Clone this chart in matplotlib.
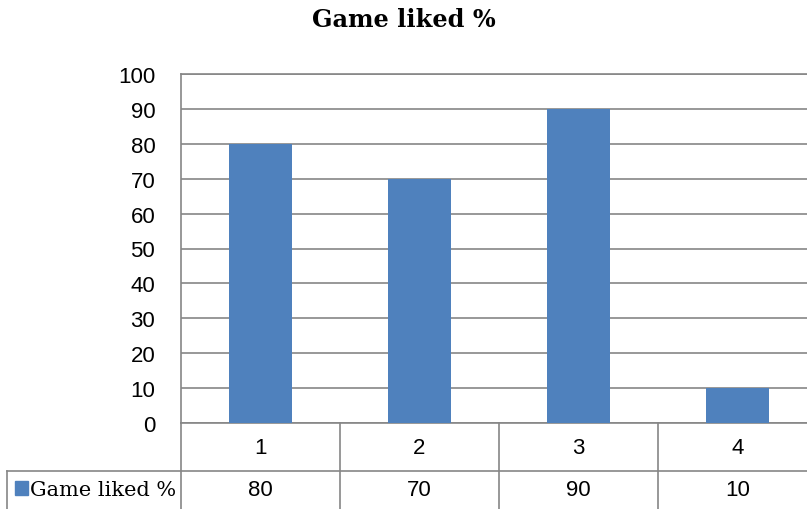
import matplotlib
matplotlib.use("Agg")
import matplotlib.pyplot as plt
import matplotlib.transforms as mtransforms
from matplotlib.lines import Line2D
from matplotlib.patches import Rectangle

categories = ["1", "2", "3", "4"]
values = [80, 70, 90, 10]
series_name = "Game liked %"
title = "Game liked %"
yticks = [0, 10, 20, 30, 40, 50, 60, 70, 80, 90, 100]

W, H = 807, 510
fig = plt.figure(figsize=(W / 100, H / 100), dpi=100)
L, R, B, T = 181, 817, 424, 75
ax = fig.add_axes([L / W, 1 - B / H, (R - L) / W, (B - T) / H])

num_font = dict(family="Liberation Sans", fontsize=16)
bar_color = "#4F81BD"
grid_color = "#868686"
x = list(range(len(categories)))
ax.bar(x, values, width=0.4, color=bar_color, zorder=3)
ax.set_xlim(-0.5, len(categories) - 0.5)
ax.set_ylim(0, 100)
ax.set_yticks(yticks)
ax.set_yticklabels([str(v) for v in yticks], **num_font)
ax.tick_params(axis="y", length=0, pad=18.5)
ax.set_xticks([])
ax.grid(axis="y", color=grid_color, linewidth=1.2, zorder=0)
for s in ["left", "bottom", "top", "right"]:
    ax.spines[s].set_color(grid_color)
    ax.spines[s].set_linewidth(1.2)

fig.text(404 / W, 1 - 20 / H, title, fontsize=17.3, fontweight="bold",
         family="DejaVu Serif", ha="center", va="center")

# data table below the axes
trans = mtransforms.blended_transform_factory(ax.transData, ax.transAxes)
ph = (B - T)
cw = (R - L) / len(categories)
row1 = -(472 - B) / ph
row2 = -(520 - B) / ph
mid1 = -(448 - B) / ph
mid2 = -(491 - B) / ph
lc = dict(color=grid_color, linewidth=1.2, clip_on=False)
for i in range(len(categories) + 1):
    ax.add_line(Line2D([i - 0.5, i - 0.5], [0, row2], transform=trans, **lc))
left_x = -0.5 - (L - 7) / cw
ax.add_line(Line2D([left_x, len(categories) - 0.5], [row1, row1], transform=trans, **lc))
ax.add_line(Line2D([left_x, left_x], [row1, row2], transform=trans, **lc))

for i, (c, v) in enumerate(zip(categories, values)):
    ax.text(i, mid1, c, transform=trans, ha="center", va="center", **num_font)
    ax.text(i, mid2, str(v), transform=trans, ha="center", va="center", **num_font)

ax.add_patch(Rectangle((left_x + 8 / cw, -(496 - B) / ph), 13 / cw, 14 / ph, transform=trans,
                       color=bar_color, clip_on=False))
ax.text(left_x + 23 / cw, mid2, series_name, transform=trans, ha="left", va="center",
        fontsize=15, family="DejaVu Serif")

fig.savefig("out.png", dpi=100)
